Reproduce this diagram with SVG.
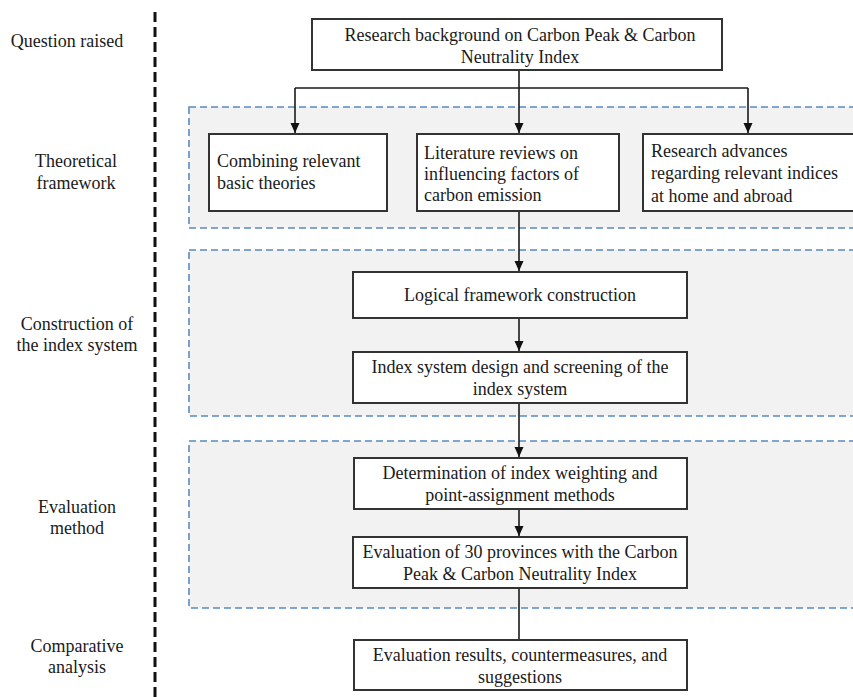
<svg xmlns="http://www.w3.org/2000/svg" width="853" height="697" viewBox="0 0 853 697">
<defs>
<style>
text{font-family:"Liberation Serif","Times New Roman",serif;font-size:18px;fill:#1a1a1a}
.c{text-anchor:middle}
.node rect{fill:#fff;stroke:#333;stroke-width:2}
.grp{fill:#f2f2f2;stroke:#5a8ac0;stroke-width:1.6;stroke-dasharray:7 4}
.conn path{fill:none;stroke:#1a1a1a;stroke-width:1.6}
</style>
<marker id="ah" viewBox="0 0 10 10" refX="10" refY="5" markerWidth="10" markerHeight="10" markerUnits="userSpaceOnUse" orient="auto">
<path d="M0,0.5 L10,5 L0,9.5 Z" fill="#111"/>
</marker>
</defs>
<rect width="853" height="697" fill="#fff"/>
<line x1="155" y1="12" x2="155" y2="697" stroke="#111" stroke-width="3" stroke-dasharray="10 5"/>
<g id="groups">
<rect class="grp" x="189" y="107" width="680" height="121"/>
<rect class="grp" x="189" y="250" width="680" height="166"/>
<rect class="grp" x="189" y="441" width="680" height="167"/>
</g>
<g id="stage-labels">
<text class="c" x="67" y="47">Question raised</text>
<text class="c" x="76" y="167">Theoretical</text>
<text class="c" x="76" y="189">framework</text>
<text class="c" x="77" y="330">Construction of</text>
<text class="c" x="77" y="351">the index system</text>
<text class="c" x="77" y="513">Evaluation</text>
<text class="c" x="77" y="534">method</text>
<text class="c" x="77" y="652">Comparative</text>
<text class="c" x="77" y="673">analysis</text>
</g>
<g class="conn" id="connectors">
<path d="M519,70 V133" marker-end="url(#ah)"/>
<path d="M295,88 H748"/>
<path d="M295,88 V133" marker-end="url(#ah)"/>
<path d="M748,88 V133" marker-end="url(#ah)"/>
<path d="M519,211 V271" marker-end="url(#ah)"/>
<path d="M519,318 V351" marker-end="url(#ah)"/>
<path d="M519,403 V457" marker-end="url(#ah)"/>
<path d="M519,509 V536" marker-end="url(#ah)"/>
<path d="M519,588 V640"/>
</g>
<g class="node" id="n-background">
<rect x="312" y="19" width="410" height="51"/>
<text class="c" x="520" y="41">Research background on Carbon Peak &amp; Carbon</text>
<text class="c" x="520" y="63">Neutrality Index</text>
</g>
<g class="node" id="n-theories">
<rect x="209" y="134" width="178" height="77"/>
<text x="217" y="167">Combining relevant</text>
<text x="217" y="189">basic theories</text>
</g>
<g class="node" id="n-literature">
<rect x="417" y="134" width="202" height="77"/>
<text x="424" y="159">Literature reviews on</text>
<text x="424" y="180">influencing factors of</text>
<text x="424" y="201">carbon emission</text>
</g>
<g class="node" id="n-advances">
<rect x="643" y="134" width="215" height="77"/>
<text x="651" y="157">Research advances</text>
<text x="651" y="179">regarding relevant indices</text>
<text x="651" y="202">at home and abroad</text>
</g>
<g class="node" id="n-logical">
<rect x="353" y="272" width="334" height="46"/>
<text class="c" x="520" y="301">Logical framework construction</text>
</g>
<g class="node" id="n-design">
<rect x="353" y="352" width="334" height="51"/>
<text class="c" x="520" y="373">Index system design and screening of the</text>
<text class="c" x="520" y="395">index system</text>
</g>
<g class="node" id="n-weighting">
<rect x="354" y="458" width="333" height="51"/>
<text class="c" x="520" y="479">Determination of index weighting and</text>
<text class="c" x="520" y="501">point-assignment methods</text>
</g>
<g class="node" id="n-evaluation">
<rect x="353" y="537" width="334" height="51"/>
<text class="c" x="520" y="558">Evaluation of 30 provinces with the Carbon</text>
<text class="c" x="520" y="580">Peak &amp; Carbon Neutrality Index</text>
</g>
<g class="node" id="n-results">
<rect x="354" y="640" width="333" height="50"/>
<text class="c" x="520" y="661">Evaluation results, countermeasures, and</text>
<text class="c" x="520" y="683">suggestions</text>
</g>
</svg>
